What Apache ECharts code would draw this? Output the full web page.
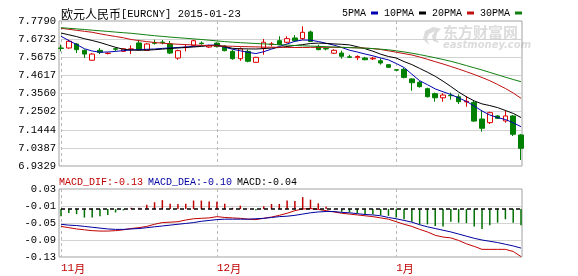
<!DOCTYPE html>
<html><head><meta charset="utf-8">
<script src="https://cdn.jsdelivr.net/npm/echarts@6/dist/echarts.min.js"></script>
<style>html,body{margin:0;padding:0;background:#fff}#c{width:578px;height:276px}</style>
</head><body><div id="c"></div>
<script>
const dates = ['2014-11-03','2014-11-04','2014-11-05','2014-11-06','2014-11-07','2014-11-10','2014-11-11','2014-11-12','2014-11-13','2014-11-14',
'2014-11-17','2014-11-18','2014-11-19','2014-11-20','2014-11-21','2014-11-24','2014-11-25','2014-11-26','2014-11-27','2014-11-28',
'2014-12-01','2014-12-02','2014-12-03','2014-12-04','2014-12-05','2014-12-08','2014-12-09','2014-12-10','2014-12-11','2014-12-12',
'2014-12-15','2014-12-16','2014-12-17','2014-12-18','2014-12-19','2014-12-22','2014-12-23','2014-12-24','2014-12-25','2014-12-26',
'2014-12-29','2014-12-30','2014-12-31','2015-01-01','2015-01-02','2015-01-05','2015-01-06','2015-01-07','2015-01-08','2015-01-09',
'2015-01-12','2015-01-13','2015-01-14','2015-01-15','2015-01-16','2015-01-19','2015-01-20','2015-01-21','2015-01-22','2015-01-23'];

// [open, close, low, high]
const ohlc = [
[7.6215,7.6190,7.602,7.641],[7.6215,7.6605,7.617,7.670],[7.6448,7.6117,7.5923,7.6506],[7.608,7.586,7.563,7.612],[7.550,7.586,7.548,7.592],
[7.608,7.596,7.586,7.621],[7.589,7.591,7.584,7.596],[7.617,7.614,7.602,7.625],[7.602,7.617,7.600,7.620],[7.614,7.616,7.586,7.637],
[7.651,7.612,7.608,7.670],[7.608,7.645,7.604,7.651],[7.652,7.649,7.641,7.670],[7.656,7.653,7.643,7.668],[7.646,7.592,7.586,7.662],
[7.563,7.606,7.553,7.612],[7.624,7.626,7.602,7.641],[7.637,7.664,7.631,7.670],[7.650,7.647,7.641,7.660],[7.627,7.635,7.621,7.641],
[7.650,7.630,7.625,7.655],[7.633,7.606,7.602,7.637],[7.602,7.559,7.553,7.612],[7.559,7.617,7.547,7.625],[7.602,7.544,7.538,7.612],
[7.538,7.567,7.536,7.570],[7.621,7.655,7.582,7.674],[7.643,7.645,7.631,7.656],[7.664,7.641,7.637,7.690],[7.655,7.676,7.649,7.690],
[7.680,7.664,7.660,7.697],[7.676,7.713,7.670,7.748],[7.715,7.660,7.656,7.723],[7.631,7.612,7.608,7.641],[7.618,7.616,7.608,7.625],
[7.591,7.608,7.588,7.614],[7.592,7.573,7.559,7.606],[7.570,7.567,7.563,7.582],[7.565,7.572,7.550,7.579],[7.563,7.553,7.550,7.570],
[7.558,7.562,7.551,7.570],[7.547,7.534,7.524,7.561],[7.524,7.509,7.505,7.528],[7.494,7.492,7.490,7.497],[7.497,7.450,7.444,7.505],
[7.441,7.419,7.372,7.445],[7.421,7.396,7.390,7.429],[7.384,7.337,7.333,7.390],[7.355,7.331,7.308,7.361],[7.331,7.347,7.308,7.358],
[7.345,7.343,7.320,7.361],[7.337,7.308,7.295,7.351],[7.307,7.310,7.279,7.341],[7.304,7.195,7.191,7.316],[7.207,7.153,7.133,7.260],
[7.186,7.244,7.178,7.250],[7.225,7.211,7.207,7.230],[7.196,7.225,7.186,7.260],[7.225,7.118,7.108,7.230],[7.114,7.036,6.968,7.120]];

const ma5 = [7.6897,7.6652,7.6419,7.6174,7.6039,7.5969,7.5981,7.6016,7.6063,7.6098,7.6121,7.6139,7.6156,7.6191,7.6220,7.6244,7.6273,7.6308,7.6343,7.6384,
7.6378,7.6261,7.6145,7.6051,7.5964,7.5888,7.5999,7.6150,7.6302,7.6448,7.6605,7.6681,7.6670,7.6594,7.6489,7.6384,7.6244,7.6086,7.5981,7.5864,
7.5759,7.5631,7.5520,7.5310,7.5077,7.4686,7.4306,7.4073,7.3828,7.3659,7.3501,7.3303,7.3099,7.2830,7.2539,7.2305,7.2153,7.2043,7.1849,7.1623];
const ma10 = [7.7090,7.6985,7.6880,7.6757,7.6652,7.6535,7.6395,7.6255,7.6139,7.6098,7.6080,7.6092,7.6115,7.6150,7.6185,7.6215,7.6244,7.6273,7.6308,7.6355,
7.6378,7.6296,7.6197,7.6168,7.6162,7.6156,7.6180,7.6215,7.6244,7.6302,7.6360,7.6413,7.6477,7.6500,7.6483,7.6454,7.6430,7.6395,7.6290,7.6174,
7.6028,7.5853,7.5719,7.5631,7.5421,7.5246,7.5024,7.4802,7.4563,7.4277,7.3968,7.3647,7.3367,7.3128,7.2953,7.2854,7.2737,7.2568,7.2398,7.2159];
const ma20 = [7.7364,7.7306,7.7247,7.7189,7.7131,7.7043,7.6961,7.6886,7.6810,7.6711,7.6646,7.6588,7.6535,7.6495,7.6460,7.6436,7.6413,7.6390,7.6372,7.6355,
7.6337,7.6325,7.6314,7.6302,7.6290,7.6279,7.6267,7.6261,7.6255,7.6250,7.6244,7.6244,7.6250,7.6255,7.6255,7.6255,7.6250,7.6238,7.6226,7.6209,
7.6180,7.6127,7.6051,7.5970,7.5888,7.5806,7.5689,7.5555,7.5415,7.5281,7.5135,7.4989,7.4832,7.4668,7.4493,7.4306,7.4085,7.3851,7.3589,7.3280];
const ma30 = [7.7399,7.7364,7.7329,7.7294,7.7253,7.7218,7.7183,7.7142,7.7107,7.7072,7.7026,7.6979,7.6932,7.6892,7.6851,7.6816,7.6781,7.6746,7.6711,7.6670,
7.6629,7.6588,7.6553,7.6524,7.6500,7.6477,7.6454,7.6430,7.6407,7.6384,7.6360,7.6343,7.6325,7.6308,7.6290,7.6273,7.6255,7.6238,7.6220,7.6203,
7.6180,7.6145,7.6109,7.6051,7.5987,7.5911,7.5829,7.5736,7.5643,7.5544,7.5438,7.5316,7.5188,7.5059,7.4931,7.4791,7.4651,7.4511,7.4376,7.4248];

const dif = [-0.058,-0.061,-0.064,-0.066,-0.068,-0.069,-0.069,-0.068,-0.066,-0.063,-0.061,-0.058,-0.053,-0.049,-0.048,-0.047,-0.043,-0.040,-0.039,-0.038,
-0.035,-0.037,-0.038,-0.039,-0.041,-0.042,-0.039,-0.036,-0.032,-0.027,-0.021,-0.017,-0.016,-0.018,-0.021,-0.024,-0.027,-0.029,-0.031,-0.033,
-0.035,-0.038,-0.041,-0.047,-0.053,-0.058,-0.065,-0.071,-0.079,-0.083,-0.085,-0.091,-0.099,-0.105,-0.112,-0.112,-0.112,-0.112,-0.117,-0.129];
const dea = [-0.053,-0.055,-0.056,-0.058,-0.060,-0.062,-0.064,-0.065,-0.065,-0.064,-0.063,-0.061,-0.059,-0.057,-0.055,-0.053,-0.051,-0.049,-0.046,-0.044,
-0.042,-0.041,-0.041,-0.041,-0.041,-0.040,-0.039,-0.037,-0.035,-0.034,-0.032,-0.029,-0.026,-0.024,-0.023,-0.023,-0.025,-0.026,-0.028,-0.030,
-0.031,-0.033,-0.037,-0.040,-0.044,-0.048,-0.054,-0.059,-0.063,-0.067,-0.071,-0.076,-0.081,-0.086,-0.090,-0.093,-0.096,-0.100,-0.104,-0.109];
const macd = [-0.017,-0.0095,-0.012,-0.020,-0.020,-0.017,-0.014,-0.008,-0.003,0.003,0.003,0.010,0.016,0.021,0.0125,0.012,0.0125,0.020,0.020,0.018,
0.017,0.0125,0.003,0.008,0.001,-0.003,0.0065,0.012,0.012,0.020,0.019,0.028,0.022,0.0135,0.0055,-0.0005,-0.0065,-0.008,-0.0095,-0.012,
-0.012,-0.014,-0.016,-0.020,-0.024,-0.030,-0.036,-0.036,-0.040,-0.041,-0.030,-0.032,-0.033,-0.041,-0.047,-0.038,-0.032,-0.024,-0.032,-0.038];

const priceTicks = ['6.9329','7.0387','7.1444','7.2502','7.3560','7.4617','7.5675','7.6732','7.7790'];
const macdTicks = ['-0.13','-0.09','-0.05','-0.01','0.03'];
const monthStarts = {'2014-11-03':'11','2014-12-01':'12','2015-01-01':'1'};
const titleName = '欧元人民币';
const titleCode = '[EURCNY] 2015-01-23';
const macdHeader = {dif:'-0.13', dea:'-0.10', macd:'-0.04'};

const MONO = 'Liberation Mono, DejaVu Sans Mono, monospace';
const CJK = 'Noto Sans CJK SC';
const isMonth = (i, v) => monthStarts[v] !== undefined;
const pick = (arr, v) => { const t = arr.find(s => Math.abs(parseFloat(s) - v) < 0.002); return t === undefined ? '' : t; };

const chart = echarts.init(document.getElementById('c'), null, {renderer:'canvas'});
const xBase = {
  type:'category', data:dates, boundaryGap:false,
  axisLine:{show:false}, axisTick:{show:false},
  splitLine:{show:true, interval:isMonth, lineStyle:{color:'#b8b8b8', type:[3,3], width:1}}
};
const rt = (family, size, color) => ({fontFamily:family, fontSize:size, color:color, fontWeight:'normal'});
chart.setOption({
  animation:false,
  backgroundColor:'#fff',
  title:[
    {left:61, top:8, padding:0, text:'{c|'+titleName+'}{l|'+titleCode+'}',
     textStyle:{fontWeight:'normal', rich:{c:rt(CJK,12,'#000'), l:rt(MONO,10.5,'#000')}}},
    {left:59, top:173, padding:0, text:'{r|MACD_DIF:'+macdHeader.dif+'} {b|MACD_DEA:'+macdHeader.dea+'} {k|MACD:'+macdHeader.macd+'}',
     textStyle:{fontWeight:'normal', rich:{r:rt(MONO,10,'#c00000'), b:rt(MONO,10,'#0000a0'), k:rt(MONO,10,'#000')}}}
  ],
  legend:{right:56, top:8, padding:0, icon:'rect', itemWidth:7, itemHeight:3, itemGap:6, align:'right',
    textStyle:{fontFamily:MONO, fontSize:10, color:'#000'}, data:['5PMA','10PMA','20PMA','30PMA']},
  graphic:[
    {type:'text', left:443, top:25, z:-1, style:{text:'东方财富网', font:'bold 15px "Noto Sans CJK SC"', fill:'#dcdcdc'}},
    {type:'text', left:443, top:40, z:-1, style:{text:'eastmoney.com', font:'italic bold 10px "DejaVu Sans"', fill:'#dcdcdc'}},
    {type:'polygon', z:-1, shape:{points:[[433,27],[425,31],[423,39],[429,45],[427,39],[429,34],[435,31],[432,36],[433,41],[439,43],[436,38],[437,33],[441,29],[438,28]]}, style:{fill:'#dcdcdc'}}
  ],
  grid:[
    {left:61, right:57, top:21, height:145, show:false},
    {left:61, right:57, top:189, height:68, show:false},
    {left:59, width:463, top:21, height:145, show:true, borderColor:'#a0a0a0', borderWidth:1, backgroundColor:'transparent'},
    {left:59, width:463, top:189, height:68, show:true, borderColor:'#a0a0a0', borderWidth:1, backgroundColor:'transparent'}
  ],
  xAxis:[
    Object.assign({gridIndex:0, axisLabel:{show:false}}, xBase),
    Object.assign({gridIndex:1, axisLabel:{show:true, interval:isMonth, align:'left', margin:6,
      formatter:v => monthStarts[v] ? '{n|'+monthStarts[v]+'}{m|月}' : '',
      rich:{n:rt(MONO,11,'#c00000'), m:rt(CJK,11,'#c00000')}}}, xBase),
    {gridIndex:2, type:'value', show:false},
    {gridIndex:3, type:'value', show:false}
  ],
  yAxis:[
    {gridIndex:0, type:'value', min:6.9329, max:7.7790, interval:0.1057625,
     axisLine:{show:false}, axisTick:{show:false},
     splitLine:{lineStyle:{color:'#d2d2d2'}},
     axisLabel:{formatter:v => pick(priceTicks, v), fontFamily:MONO, fontSize:10.5, color:'#000', margin:5, padding:[0,0,3,0]}},
    {gridIndex:1, type:'value', min:-0.13, max:0.03, interval:0.04,
     axisLine:{show:false}, axisTick:{show:false},
     splitLine:{lineStyle:{color:'#d2d2d2'}},
     axisLabel:{formatter:v => pick(macdTicks, v), fontFamily:MONO, fontSize:10.5, color:'#000', margin:5, padding:[4,0,0,0]}},
    {gridIndex:1, type:'value', min:-0.1128, max:0.0472, show:false, splitLine:{show:false}},
    {gridIndex:2, type:'value', show:false},
    {gridIndex:3, type:'value', show:false}
  ],
  series:[
    {type:'candlestick', name:'K', xAxisIndex:0, yAxisIndex:0, data:ohlc, barWidth:5,
     itemStyle:{color:'#ffffff', color0:'#008000', borderColor:'#e00000', borderColor0:'#008000', borderWidth:1}},
    {type:'line', name:'5PMA', xAxisIndex:0, yAxisIndex:0, data:ma5, showSymbol:false, symbol:'none', lineStyle:{width:1, color:'#0000b0'}, itemStyle:{color:'#0000b0'}},
    {type:'line', name:'10PMA', xAxisIndex:0, yAxisIndex:0, data:ma10, showSymbol:false, symbol:'none', lineStyle:{width:1, color:'#000000'}, itemStyle:{color:'#000000'}},
    {type:'line', name:'20PMA', xAxisIndex:0, yAxisIndex:0, data:ma20, showSymbol:false, symbol:'none', lineStyle:{width:1, color:'#c01010'}, itemStyle:{color:'#c01010'}},
    {type:'line', name:'30PMA', xAxisIndex:0, yAxisIndex:0, data:ma30, showSymbol:false, symbol:'none', lineStyle:{width:1, color:'#108010'}, itemStyle:{color:'#108010'}},
    {type:'bar', name:'MACD', xAxisIndex:1, yAxisIndex:2, data:macd, barWidth:1.5,
     itemStyle:{color:p => p.value >= 0 ? '#c00000' : '#007000'},
     markLine:{silent:true, symbol:['none','none'], label:{show:false}, lineStyle:{color:'#000', type:[4,3], width:1.5}, data:[{yAxis:0}]}},
    {type:'line', name:'DIF', xAxisIndex:1, yAxisIndex:1, data:dif, showSymbol:false, symbol:'none', lineStyle:{width:1, color:'#c00000'}},
    {type:'line', name:'DEA', xAxisIndex:1, yAxisIndex:1, data:dea, showSymbol:false, symbol:'none', lineStyle:{width:1, color:'#0000a0'}}
  ]
});
</script></body></html>
